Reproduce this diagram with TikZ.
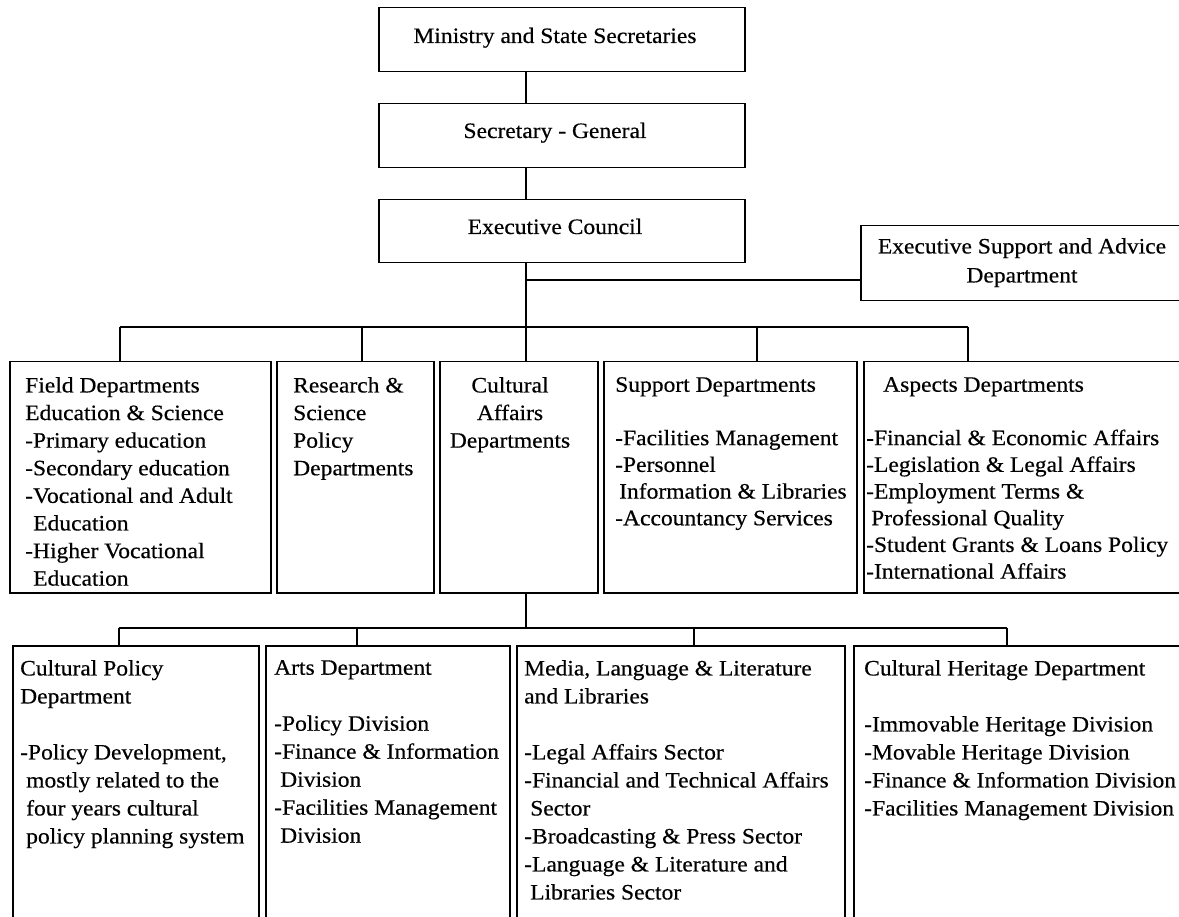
\documentclass[tikz,border=0pt]{standalone}
\usepackage{fontspec}
\setmainfont{Liberation Serif}[FakeStretch=1.07,FakeBold=0.4]
\begin{document}
\begin{tikzpicture}[x=1pt,y=-1pt,
  box/.style={draw, line width=1.5pt, rectangle, inner sep=0pt, anchor=north west},
  link/.style={line width=1.5pt},
  head/.style={inner sep=0pt, anchor=base, font=\fontsize{22}{27}\selectfont},
  txt/.style={inner sep=0pt, anchor=north west, align=left, font=\fontsize{22}{#1}\selectfont},
  txt/.default=27.5,
  ctxt/.style={inner sep=0pt, anchor=north, align=center, font=\fontsize{22}{#1}\selectfont},
  ctxt/.default=27.5]
\useasboundingbox (0,0) rectangle (1179,917);
\clip (0,0) rectangle (1179,917);
\fill[white] (0,0) rectangle (1179,917);

% top of the hierarchy
\node[box, minimum width=366pt, minimum height=64pt] (ministry) at (378,7) {};
\node[box, minimum width=366pt, minimum height=64pt] (secgen) at (378,103) {};
\node[box, minimum width=366pt, minimum height=63pt] (exec) at (378,199) {};
\node[box, minimum width=340pt, minimum height=75pt] (advice) at (860,225) {};
\node[head] (ministrytxt) at (555,43) {Ministry and State Secretaries};
\node[head] (secgentxt) at (555,138) {Secretary - General};
\node[head] (exectxt) at (555,234) {Executive Council};
\node[ctxt=29] (advicetxt) at (1022,238) {Executive Support and Advice\\Department};

% departments
\node[box, minimum width=261pt, minimum height=231pt] (field) at (9,361) {};
\node[box, minimum width=157pt, minimum height=231pt] (research) at (276,361) {};
\node[box, minimum width=158pt, minimum height=231pt] (cultural) at (439,361) {};
\node[box, minimum width=253pt, minimum height=231pt] (support) at (603,361) {};
\node[box, minimum width=337pt, minimum height=231pt] (aspects) at (863,361) {};

\node[txt=27.6] (fieldtxt) at (25,377) {Field Departments\\Education \& Science\\-Primary education\\-Secondary education\\-Vocational and Adult\\\hspace*{8pt}Education\\-Higher Vocational\\\hspace*{8pt}Education};
\node[txt=27.6] (researchtxt) at (293,377) {Research \&\\Science\\Policy\\Departments};
\node[ctxt=27.6] (culturaltxt) at (510,377) {Cultural\\Affairs\\Departments};
\node[txt=26.7] (supporttxt) at (615,377) {Support Departments\\[26.7pt]-Facilities Management\\-Personnel\\\hspace*{4pt}Information \& Libraries\\-Accountancy Services};
\node[txt=26.7] (aspectstxt) at (866,377) {\hspace*{17pt}Aspects Departments\\[26.7pt]-Financial \& Economic Affairs\\-Legislation \& Legal Affairs\\-Employment Terms \&\\\hspace*{5pt}Professional Quality\\-Student Grants \& Loans Policy\\-International Affairs};

% divisions of cultural affairs
\node[box, minimum width=246pt, minimum height=295pt] (cpol) at (12,645) {};
\node[box, minimum width=244pt, minimum height=295pt] (arts) at (265,645) {};
\node[box, minimum width=328pt, minimum height=295pt] (media) at (516,645) {};
\node[box, minimum width=347pt, minimum height=295pt] (heritage) at (853,645) {};

\node[txt=28] (cpoltxt) at (20,660) {Cultural Policy\\Department\\[28pt]-Policy Development,\\\hspace*{6pt}mostly related to the\\\hspace*{6pt}four years cultural\\\hspace*{6pt}policy planning system};
\node[txt=28] (artstxt) at (274,660) {Arts Department\\[28pt]-Policy Division\\-Finance \& Information\\\hspace*{6pt}Division\\-Facilities Management\\\hspace*{6pt}Division};
\node[txt=28] (mediatxt) at (524,660) {Media, Language \& Literature\\and Libraries\\[28pt]-Legal Affairs Sector\\-Financial and Technical Affairs\\\hspace*{6pt}Sector\\-Broadcasting \& Press Sector\\-Language \& Literature and\\\hspace*{6pt}Libraries Sector};
\node[txt=28] (heritagetxt) at (864,660) {Cultural Heritage Department\\[28pt]-Immovable Heritage Division\\-Movable Heritage Division\\-Finance \& Information Division\\-Facilities Management Division};

% connectors
\coordinate (spine) at (526,0);
\coordinate (adv) at (526,280);
\coordinate (b1) at (120,327);
\coordinate (b2) at (362,327);
\coordinate (b3) at (526,327);
\coordinate (b4) at (757,327);
\coordinate (b5) at (968,327);
\coordinate (c0) at (526,628);
\coordinate (c1) at (119,628);
\coordinate (c2) at (357,628);
\coordinate (c3) at (694,628);
\coordinate (c4) at (1007,628);

\draw[link] (ministry.south -| spine) -- (secgen.north -| spine);
\draw[link] (secgen.south -| spine) -- (exec.north -| spine);
\draw[link] (exec.south -| spine) -- (b3);
\draw[link] (adv) -- (adv -| advice.west);
\draw[link] (b1) -- (b5);
\draw[link] (b1) -- (b1 |- field.north);
\draw[link] (b2) -- (b2 |- research.north);
\draw[link] (b3) -- (b3 |- cultural.north);
\draw[link] (b4) -- (b4 |- support.north);
\draw[link] (b5) -- (b5 |- aspects.north);
\draw[link] (cultural.south -| c0) -- (c0);
\draw[link] (c1) -- (c4);
\draw[link] (c1) -- (c1 |- cpol.north);
\draw[link] (c2) -- (c2 |- arts.north);
\draw[link] (c3) -- (c3 |- media.north);
\draw[link] (c4) -- (c4 |- heritage.north);
\end{tikzpicture}
\end{document}
